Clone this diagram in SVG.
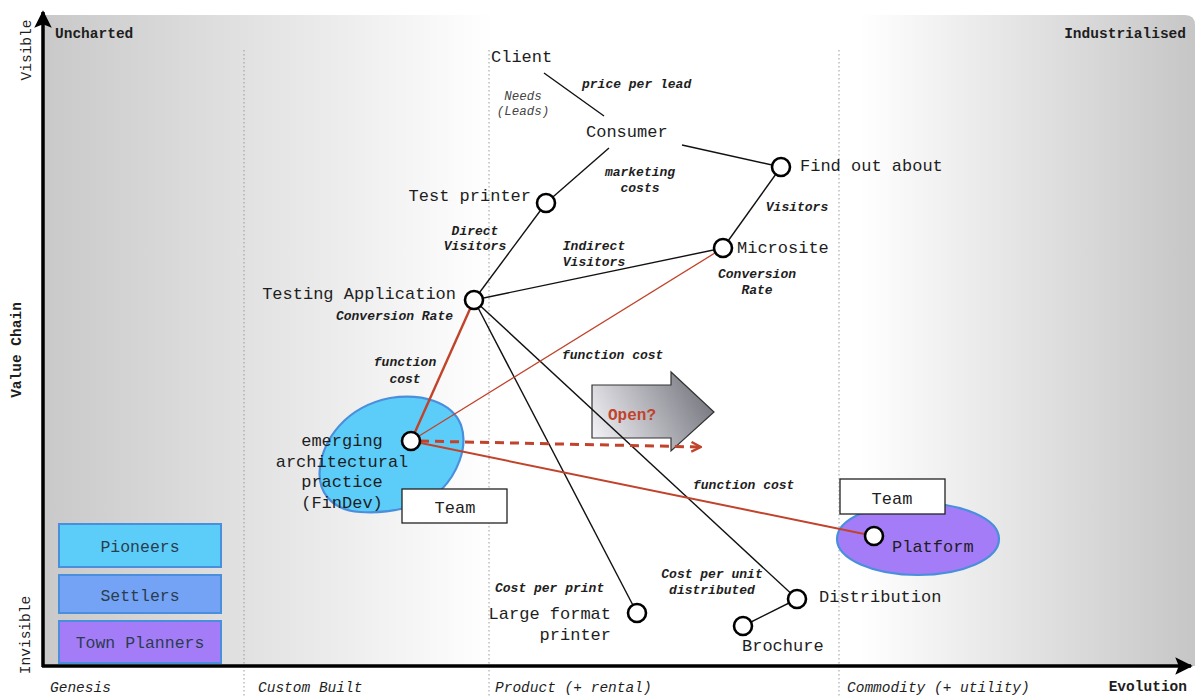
<svg xmlns="http://www.w3.org/2000/svg" width="1195" height="696" viewBox="0 0 1195 696">
<defs>
<linearGradient id="bg" x1="43" y1="0" x2="1195" y2="0" gradientUnits="userSpaceOnUse">
<stop offset="0" stop-color="#c9c9c9"/>
<stop offset="0.39" stop-color="#ffffff"/>
<stop offset="0.71" stop-color="#ffffff"/>
<stop offset="1" stop-color="#c6c6c6"/>
</linearGradient>
<linearGradient id="arrowFill" x1="592" y1="445" x2="714" y2="380" gradientUnits="userSpaceOnUse">
<stop offset="0" stop-color="#f6f6fa"/>
<stop offset="1" stop-color="#6c6c76"/>
</linearGradient>
<marker id="axisHead" viewBox="0 0 10 10" refX="9" refY="5" markerWidth="5" markerHeight="5" orient="auto" markerUnits="strokeWidth">
<path d="M0,0 L10,5 L0,10 L2,5 Z" fill="#000"/>
</marker>
<marker id="redHead" viewBox="0 0 10 10" refX="9" refY="5" markerWidth="4" markerHeight="4" orient="auto" markerUnits="strokeWidth">
<path d="M1,1 L9,5 L1,9" fill="none" stroke="#c1432b" stroke-width="2"/>
</marker>
</defs>
<style>
.mono{font-family:"Liberation Mono","Courier New",monospace;}
.node{font-family:"Liberation Mono","Courier New",monospace;font-size:17px;fill:#1e1e1e;}
.lbl{font-family:"Liberation Mono","Courier New",monospace;font-size:13px;font-weight:bold;font-style:italic;fill:#1e1e1e;}
.axis{font-family:"Liberation Mono","Courier New",monospace;font-size:14.5px;fill:#1e1e1e;}
.ax-it{font-style:italic;}
.ax-b{font-weight:bold;}
.dot{stroke:#9a9a9a;stroke-width:1;stroke-dasharray:1.5,2.5;fill:none;}
.edge{stroke:#111;stroke-width:1.4;fill:none;}
.red{stroke:#c1432b;fill:none;}
.circ{fill:#fff;stroke:#000;stroke-width:2.6;}
.legend{font-family:"Liberation Mono","Courier New",monospace;font-size:16.5px;fill:#2a3d4e;}
.team{fill:#fff;stroke:#222;stroke-width:1.3;}
</style>

<g id="background">
<path d="M43,15 H1185 Q1195,15 1195,25 V666 H43 Z" fill="url(#bg)"/>
<line class="dot" x1="244" y1="50" x2="244" y2="696"/>
<line class="dot" x1="489" y1="50" x2="489" y2="696"/>
<line class="dot" x1="839" y1="50" x2="839" y2="696"/>
</g>

<g id="axes">
<line x1="43" y1="667" x2="43" y2="12" stroke="#000" stroke-width="3.5" marker-end="url(#axisHead)"/>
<line x1="42" y1="666" x2="1191" y2="666" stroke="#000" stroke-width="3.5" marker-end="url(#axisHead)"/>
<text class="axis" transform="translate(31,50) rotate(-90)" text-anchor="middle">Visible</text>
<text class="axis ax-b" transform="translate(21,350) rotate(-90)" text-anchor="middle">Value Chain</text>
<text class="axis" transform="translate(30,635) rotate(-90)" text-anchor="middle">Invisible</text>
<text class="axis ax-b" x="55" y="38">Uncharted</text>
<text class="axis ax-b" x="1186" y="38" text-anchor="end">Industrialised</text>
<text class="axis ax-it" x="50" y="692">Genesis</text>
<text class="axis ax-it" x="258" y="692">Custom Built</text>
<text class="axis ax-it" x="495" y="692">Product (+ rental)</text>
<text class="axis ax-it" x="847" y="692">Commodity (+ utility)</text>
<text class="axis ax-b" x="1187" y="691" text-anchor="end" font-size="14">Evolution</text>
</g>

<g id="legend">
<rect x="59" y="524" width="162" height="43" fill="#5ccdf9" stroke="#4a8fdc" stroke-width="2"/>
<text class="legend" x="140" y="552" text-anchor="middle">Pioneers</text>
<rect x="59" y="575" width="162" height="38" fill="#74a3f6" stroke="#4a8fdc" stroke-width="2"/>
<text class="legend" x="140" y="601" text-anchor="middle">Settlers</text>
<rect x="59" y="621" width="162" height="42" fill="#a57cf8" stroke="#4a8fdc" stroke-width="2"/>
<text class="legend" x="140" y="648" text-anchor="middle">Town Planners</text>
</g>

<g id="blob-findev">
<path d="M390,398 C422,393 452,402 461,425 C469,448 456,475 441,490 C421,508 386,514 360,512 C330,510 317,490 320,468 C323,440 345,407 390,398 Z" fill="#5ccdf9" stroke="#4a8fdc" stroke-width="2.2"/>
</g>
<g id="blob-platform">
<ellipse cx="918" cy="539" rx="81" ry="36" fill="#a57cf8" stroke="#4a8fdc" stroke-width="2.2"/>
</g>

<g id="open-arrow">
<path d="M592,385 H671 V372 L714,412 L671,451 V438 H592 Z" fill="url(#arrowFill)" stroke="#333" stroke-width="1.2"/>
<text class="mono" x="608" y="420" font-size="16" font-weight="bold" fill="#c1432b">Open?</text>
</g>

<g id="connectors">
<line class="edge" x1="544" y1="73" x2="604" y2="116"/>
<line class="edge" x1="682" y1="145" x2="781" y2="167"/>
<line class="edge" x1="609" y1="148" x2="546" y2="203"/>
<line class="edge" x1="546" y1="203" x2="474" y2="300"/>
<line class="edge" x1="781" y1="167" x2="723" y2="248"/>
<line class="edge" x1="474" y1="300" x2="723" y2="248"/>
<line class="edge" x1="474" y1="300" x2="637" y2="613"/>
<line class="edge" x1="474" y1="300" x2="797" y2="599"/>
<line class="edge" x1="797" y1="599" x2="743" y2="626"/>
<line class="red" x1="411" y1="441" x2="474" y2="300" stroke-width="2.4"/>
<line class="red" x1="411" y1="441" x2="723" y2="248" stroke-width="1.3"/>
<line class="red" x1="411" y1="441" x2="874" y2="536" stroke-width="2"/>
<line class="red" x1="420" y1="441" x2="701" y2="447" stroke-width="3" stroke-dasharray="9,6" marker-end="url(#redHead)"/>
</g>

<g id="connector-labels">
<text class="lbl" x="582" y="88">price per lead</text>
<text class="mono" x="523" y="100" font-size="12.5" font-style="italic" fill="#444" text-anchor="middle">Needs</text>
<text class="mono" x="523" y="115" font-size="12.5" font-style="italic" fill="#444" text-anchor="middle">(Leads)</text>
<text class="lbl" x="640" y="176" text-anchor="middle">marketing</text>
<text class="lbl" x="640" y="192" text-anchor="middle">costs</text>
<text class="lbl" x="797" y="211" text-anchor="middle">Visitors</text>
<text class="lbl" x="475" y="235" text-anchor="middle">Direct</text>
<text class="lbl" x="475" y="250" text-anchor="middle">Visitors</text>
<text class="lbl" x="594" y="250" text-anchor="middle">Indirect</text>
<text class="lbl" x="594" y="266" text-anchor="middle">Visitors</text>
<text class="lbl" x="757" y="278" text-anchor="middle">Conversion</text>
<text class="lbl" x="757" y="294" text-anchor="middle">Rate</text>
<text class="lbl" x="453" y="320" text-anchor="end">Conversion Rate</text>
<text class="lbl" x="405" y="366" text-anchor="middle">function</text>
<text class="lbl" x="405" y="383" text-anchor="middle">cost</text>
<text class="lbl" x="562" y="359">function cost</text>
<text class="lbl" x="693" y="489">function cost</text>
<text class="lbl" x="495" y="592">Cost per print</text>
<text class="lbl" x="712" y="578" text-anchor="middle">Cost per unit</text>
<text class="lbl" x="712" y="594" text-anchor="middle">distributed</text>
</g>

<g id="node-client"><text class="node" x="491" y="62">Client</text></g>
<g id="node-consumer"><text class="node" x="586" y="137">Consumer</text></g>
<g id="node-find-out-about"><circle class="circ" cx="781" cy="167" r="9"/><text class="node" x="800" y="171">Find out about</text></g>
<g id="node-test-printer"><circle class="circ" cx="546" cy="203" r="9"/><text class="node" x="531" y="201" text-anchor="end">Test printer</text></g>
<g id="node-microsite"><circle class="circ" cx="723" cy="248" r="9"/><text class="node" x="737" y="253">Microsite</text></g>
<g id="node-testing-application"><circle class="circ" cx="474" cy="300" r="9"/><text class="node" x="456" y="299" text-anchor="end">Testing Application</text></g>
<g id="node-emerging">
<circle class="circ" cx="411" cy="441" r="9"/>
<text class="node" x="342" y="446" text-anchor="middle">emerging</text>
<text class="node" x="342" y="467" text-anchor="middle">architectural</text>
<text class="node" x="342" y="487" text-anchor="middle">practice</text>
<text class="node" x="342" y="508" text-anchor="middle">(FinDev)</text>
</g>
<g id="node-team-1"><rect class="team" x="402" y="489" width="105" height="34"/><text class="node" x="455" y="513" font-size="20" text-anchor="middle">Team</text></g>
<g id="node-team-2"><rect class="team" x="840" y="479" width="105" height="35"/><text class="node" x="892" y="504" font-size="20" text-anchor="middle">Team</text></g>
<g id="node-platform"><circle class="circ" cx="874" cy="536" r="9"/><text class="node" x="892" y="552" fill="#2a2a40">Platform</text></g>
<g id="node-large-format-printer"><circle class="circ" cx="637" cy="613" r="9"/><text class="node" x="611" y="619" text-anchor="end">Large format</text><text class="node" x="611" y="640" text-anchor="end">printer</text></g>
<g id="node-distribution"><circle class="circ" cx="797" cy="599" r="9"/><text class="node" x="819" y="602">Distribution</text></g>
<g id="node-brochure"><circle class="circ" cx="743" cy="626" r="9"/><text class="node" x="742" y="651">Brochure</text></g>
</svg>
